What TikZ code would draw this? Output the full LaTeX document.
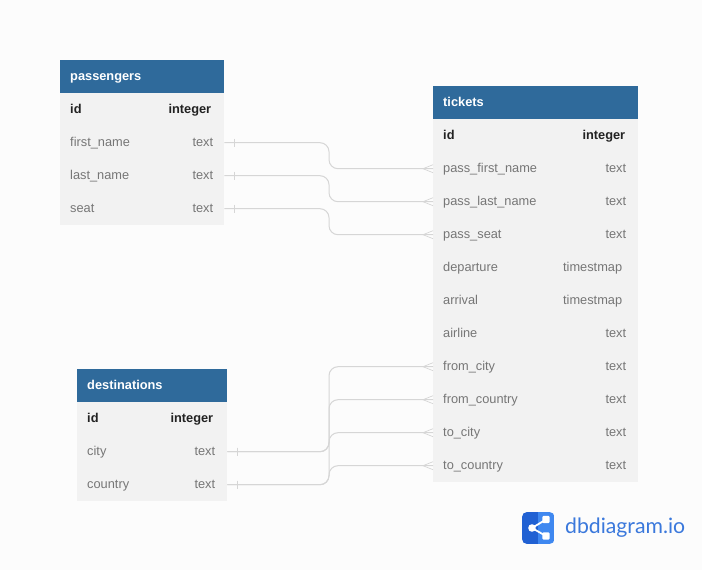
\documentclass[tikz,border=0pt]{standalone}
\usepackage{fontspec}
\setmainfont{Liberation Sans}
\newfontfamily\logofont{Lato}

\definecolor{pagebg}{HTML}{FCFCFC}
\definecolor{headblue}{HTML}{2F6A9B}
\definecolor{rowgray}{HTML}{F2F2F2}
\definecolor{fieldgray}{HTML}{767676}
\definecolor{keyblack}{HTML}{222222}
\definecolor{relgray}{HTML}{D6D6D6}
\definecolor{logodark}{HTML}{2161D3}
\definecolor{logolight}{HTML}{3F88F0}
\definecolor{logotext}{HTML}{3A78DC}

\newcommand*{\rowh}{33}
\newcommand*{\xmid}{329}
\newcommand*{\relfoot}{10}
\newcommand*{\relspread}{4}

\tikzset{
	headbox/.style={fill=headblue,anchor=north west,minimum height=\rowh pt,inner sep=0pt},
	rowbox/.style={fill=rowgray,anchor=north west,minimum height=\rowh pt,inner sep=0pt},
	tablename/.style={white,font=\fontsize{12.8}{15}\selectfont\bfseries,inner sep=0pt,anchor=west,text height=11.5pt,text depth=3pt},
	fieldname/.style={fieldgray,font=\fontsize{12.8}{15}\selectfont,inner sep=0pt,text height=11.5pt,text depth=3pt},
	keyname/.style={keyblack,font=\fontsize{12.8}{15}\selectfont\bfseries,inner sep=0pt,text height=11.5pt,text depth=3pt},
	rel/.style={relgray,line width=1pt,rounded corners=9pt},
	relmark/.style={relgray,line width=0.7pt},
}

\begin{document}
\begin{tikzpicture}[x=1pt,y=-1pt]

	\useasboundingbox[fill=pagebg] (0,0) rectangle (702,570);

	% passengers
	\node[headbox,minimum width=164pt] (passengers) at (60,60) {};
	\node[tablename] (passengersname) at ([xshift=10pt]passengers.west) {passengers};
	\node[rowbox,minimum width=164pt] (pid) at (60,93) {};
	\node[keyname,anchor=west] (pidname) at ([xshift=10pt]pid.west) {id};
	\node[keyname,anchor=east] (pidtype) at ([xshift=-13pt]pid.east) {integer};
	\foreach \rowname/\rowtext/\rowtop in {pfirst/first\_name/126,plast/last\_name/159,pseat/seat/192} {
		\node[rowbox,minimum width=164pt] (\rowname) at (60,\rowtop) {};
		\node[fieldname,anchor=west] (\rowname name) at ([xshift=10pt]\rowname.west) {\rowtext};
		\node[fieldname,anchor=east] (\rowname type) at ([xshift=-11pt]\rowname.east) {text};
	}

	% destinations
	\node[headbox,minimum width=150pt] (destinations) at (77,369) {};
	\node[tablename] (destinationsname) at ([xshift=10pt]destinations.west) {destinations};
	\node[rowbox,minimum width=150pt] (did) at (77,402) {};
	\node[keyname,anchor=west] (didname) at ([xshift=10pt]did.west) {id};
	\node[keyname,anchor=east] (didtype) at ([xshift=-14pt]did.east) {integer};
	\foreach \rowname/\rowtext/\rowtop in {dcity/city/435,dcountry/country/468} {
		\node[rowbox,minimum width=150pt] (\rowname) at (77,\rowtop) {};
		\node[fieldname,anchor=west] (\rowname name) at ([xshift=10pt]\rowname.west) {\rowtext};
		\node[fieldname,anchor=east] (\rowname type) at ([xshift=-12pt]\rowname.east) {text};
	}

	% tickets
	\node[headbox,minimum width=205pt] (tickets) at (433,86) {};
	\node[tablename] (ticketsname) at ([xshift=10pt]tickets.west) {tickets};
	\node[rowbox,minimum width=205pt] (tid) at (433,119) {};
	\node[keyname,anchor=west] (tidname) at ([xshift=10pt]tid.west) {id};
	\node[keyname,anchor=east] (tidtype) at ([xshift=-13pt]tid.east) {integer};
	\foreach \rowname/\rowtext/\rowtype/\rowtop/\rowgap in {
		tfirst/pass\_first\_name/text/152/12,
		tlast/pass\_last\_name/text/185/12,
		tseat/pass\_seat/text/218/12,
		tdeparture/departure/timestmap/251/16,
		tarrival/arrival/timestmap/284/16,
		tairline/airline/text/317/12,
		tfromcity/from\_city/text/350/12,
		tfromcountry/from\_country/text/383/12,
		ttocity/to\_city/text/416/12,
		ttocountry/to\_country/text/449/12} {
		\node[rowbox,minimum width=205pt] (\rowname) at (433,\rowtop) {};
		\node[fieldname,anchor=west] (\rowname name) at ([xshift=10pt]\rowname.west) {\rowtext};
		\node[fieldname,anchor=east] (\rowname type) at ([xshift=-\rowgap pt]\rowname.east) {\rowtype};
	}

	% relations
	\coordinate (mid) at (\xmid,0);
	\foreach \from/\to in {pfirst/tfirst,plast/tlast,pseat/tseat,dcity/tfromcity,dcity/ttocity,dcountry/tfromcountry,dcountry/ttocountry} {
		\draw[rel] (\from.east) -- (\from.east -| mid) |- (\to.west);
		\draw[relmark] ([xshift=\relfoot pt]\from.east) ++(0,-\relspread) -- ++(0,2*\relspread);
		\draw[relmark] ([xshift=-\relfoot pt]\to.west) -- ++(\relfoot,-\relspread);
		\draw[relmark] ([xshift=-\relfoot pt]\to.west) -- ++(\relfoot,\relspread);
	}

	% logo
	\begin{scope}
		\clip[rounded corners=5pt] (522,512) rectangle (554.5,544);
		\fill[logodark] (522,512) rectangle (537.5,544);
		\fill[logolight] (537.5,512) rectangle (554.5,544);
	\end{scope}
	\coordinate (logoleft) at (532,528);
	\coordinate (logotop) at (546,519.5);
	\coordinate (logobottom) at (546,536);
	\draw[white,line width=1.8pt] (logotop) -- (logoleft) -- (logobottom);
	\fill[white] (logoleft) circle (3.8pt);
	\fill[white,rounded corners=1pt] ([xshift=-3.6pt,yshift=-3.6pt]logotop) rectangle ([xshift=3.6pt,yshift=3.6pt]logotop);
	\fill[white,rounded corners=1pt] ([xshift=-3.6pt,yshift=-3.6pt]logobottom) rectangle ([xshift=3.6pt,yshift=3.6pt]logobottom);
	\node[logotext,font=\logofont\fontsize{21.2}{24}\selectfont,inner sep=0pt,anchor=west] (logotitle) at (565,528) {dbdiagram.io};

\end{tikzpicture}
\end{document}
